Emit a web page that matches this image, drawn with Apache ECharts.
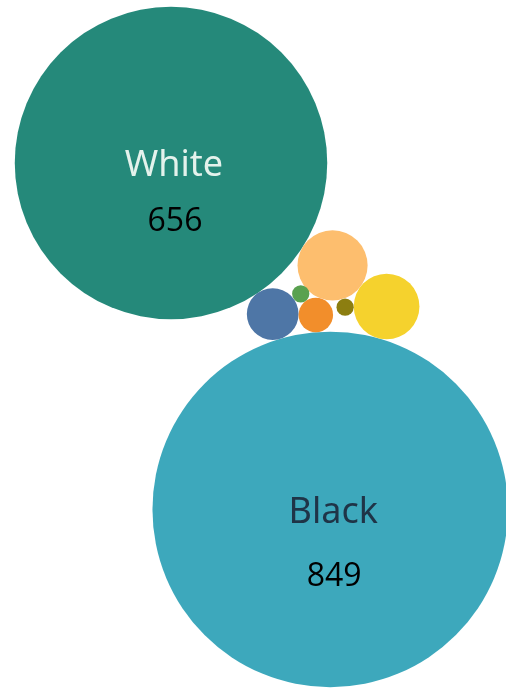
<!DOCTYPE html>
<html>
<head>
<meta charset="utf-8">
<script src="https://cdn.jsdelivr.net/npm/echarts@6/dist/echarts.min.js"></script>
<style>
html,body{margin:0;padding:0;background:#fff;}
#chart{width:506px;height:688px;}
</style>
</head>
<body>
<div id="chart"></div>
<script>
// ---- data ----
const categories = ['White', 'Black', 'Hispanic', 'Asian', 'Multiracial', 'Other', 'Native American', 'Pacific Islander'];
const values = [656, 849, 33, 29, 18, 8, 2, 2];
const labelled = ['White', 'Black'];

// ---- styles ----
const colors = {
  'White': '#25897A',
  'Black': '#3DA8BC',
  'Hispanic': '#FDBE6E',
  'Asian': '#F5D22D',
  'Multiracial': '#4E76A6',
  'Other': '#F28E2B',
  'Native American': '#59A14F',
  'Pacific Islander': '#8C7E10'
};
const nameColors = { 'White': '#E4F2EC', 'Black': '#1F3447' };

// ---- packing layout: each bubble is placed tangent to earlier ones ----
const layoutSteps = [
  { id: 'White' },
  { id: 'Multiracial', from: 'White', angle: 56.05 },
  { id: 'Black', from: 'Multiracial', angle: 73.6 },
  { id: 'Other', between: ['Multiracial', 'Black'], side: -1 },
  { id: 'Hispanic', between: ['White', 'Other'], side: -1 },
  { id: 'Asian', between: ['Hispanic', 'Black'], side: -1 },
  { id: 'Native American', between: ['Multiracial', 'Other'], side: -1 },
  { id: 'Pacific Islander', between: ['Hispanic', 'Asian'], side: 1 }
];
const pxPerUnit = 6.1;           // radius unit = sqrt(value)
const originPx = [171, 163];     // where the first bubble sits in the view

const radius = {};
categories.forEach((c, i) => { radius[c] = Math.sqrt(values[i]); });
const pos = {};
function place(rC, A, B, side) {
  const dx = B.x - A.x, dy = B.y - A.y, d = Math.hypot(dx, dy);
  const ux = dx / d, uy = dy / d;
  const dA = A.r + rC, dB = B.r + rC;
  const a = (dA * dA - dB * dB + d * d) / (2 * d);
  const h = Math.sqrt(Math.max(0, dA * dA - a * a));
  return { x: A.x + a * ux - side * h * uy, y: A.y + a * uy + side * h * ux };
}
layoutSteps.forEach(s => {
  const r = radius[s.id];
  if (s.from) {
    const A = pos[s.from], d = A.r + r, t = s.angle * Math.PI / 180;
    pos[s.id] = { x: A.x + d * Math.cos(t), y: A.y + d * Math.sin(t), r };
  } else if (s.between) {
    const p = place(r, pos[s.between[0]], pos[s.between[1]], s.side);
    pos[s.id] = { x: p.x, y: p.y, r };
  } else {
    pos[s.id] = { x: 0, y: 0, r };
  }
});

const seriesData = categories.map((c, i) => ({
  name: c,
  value: [pos[c].x, pos[c].y, pos[c].r, values[i]]
}));

const W = 506, H = 688;
const chart = echarts.init(document.getElementById('chart'), null, { renderer: 'canvas' });
chart.setOption({
  animation: false,
  backgroundColor: '#ffffff',
  grid: { left: 0, top: 0, width: W, height: H },
  xAxis: { type: 'value', show: false, min: -originPx[0] / pxPerUnit, max: (W - originPx[0]) / pxPerUnit },
  yAxis: { type: 'value', show: false, inverse: true, min: -originPx[1] / pxPerUnit, max: (H - originPx[1]) / pxPerUnit },
  series: [{
    type: 'custom',
    clip: false,
    data: seriesData,
    renderItem: function (params, api) {
      const name = categories[params.dataIndex];
      const c = api.coord([api.value(0), api.value(1)]);
      const r = Math.abs(api.size([api.value(2), api.value(2)])[0]);
      const children = [{
        type: 'circle',
        shape: { cx: c[0], cy: c[1], r: r },
        style: { fill: colors[name] }
      }];
      if (labelled.indexOf(name) >= 0) {
        children.push({
          type: 'text',
          x: c[0] + 3, y: c[1] + 0.018 * r,
          style: {
            text: name, fill: nameColors[name],
            fontFamily: '"Noto Sans"', fontSize: 36,
            align: 'center', verticalAlign: 'middle'
          }
        });
        children.push({
          type: 'text',
          x: c[0] + 4, y: c[1] + 0.38 * r,
          style: {
            text: String(api.value(3)), fill: '#000000',
            fontFamily: '"Open Sans"', fontSize: 32,
            align: 'center', verticalAlign: 'middle'
          }
        });
      }
      return { type: 'group', children: children };
    }
  }]
});
</script>
</body>
</html>
